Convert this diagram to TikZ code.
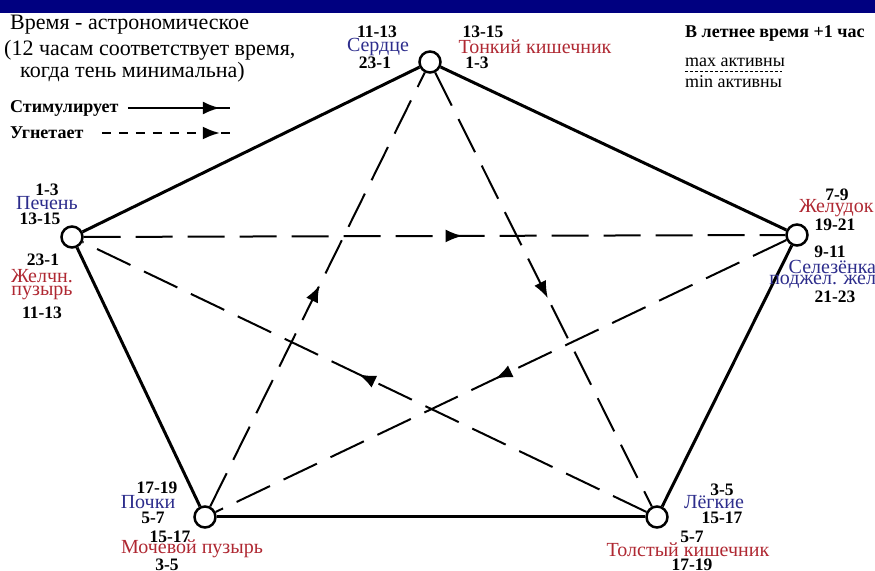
\documentclass[tikz,border=0pt]{standalone}
\usepackage{fontspec}
\setmainfont{Liberation Serif}
\usepackage{xcolor}
\usetikzlibrary{arrows.meta,decorations.markings}
\definecolor{navybar}{RGB}{0,0,128}
\definecolor{organblue}{RGB}{45,45,140}
\definecolor{organred}{RGB}{175,40,50}

\begin{document}
\begin{tikzpicture}[scale=0.8787,
  organ/.style={circle, draw, line width=2.5pt, fill=white, minimum size=21pt, inner sep=0pt},
  hours/.style={font=\fontsize{17.5}{17.5}\selectfont\bfseries, inner sep=0pt},
  yinlab/.style={text=organblue, font=\fontsize{20}{20}\selectfont, inner sep=0pt},
  yanglab/.style={text=organred, font=\fontsize{20}{20}\selectfont, inner sep=0pt},
  note/.style={font=\fontsize{22}{22}\selectfont, inner sep=0pt, anchor=west},
  keylab/.style={font=\fontsize{18}{18}\selectfont\bfseries, inner sep=0pt, anchor=west},
  bond/.style={line width=3pt},
  curb/.style={line width=2pt, dash pattern=on 37pt off 15pt},
  midarrow/.style={postaction={decorate}, decoration={markings,
    mark=at position #1 with {\arrow{Latex[length=17pt,width=13pt]}}}}
]
  \useasboundingbox (0,0) rectangle (35,22.84);
  \fill[navybar] (0,22.32) rectangle (35,22.84);

  \node[note] (astro) at (0.4,21.84) {Время - астрономическое};
  \node[note] (noon) at (0.16,20.84) {(12 часам соответствует время,};
  \node[note] (shadow) at (0.8,19.96) {когда тень минимальна)};

  \node[keylab] (stim) at (0.4,18.52) {Стимулирует};
  \coordinate (stimA) at (5.12,18.52);
  \coordinate (stimB) at (9.2,18.52);
  \draw[line width=2pt, midarrow=0.9] (stimA) -- (stimB);
  \node[keylab] (supp) at (0.4,17.52) {Угнетает};
  \coordinate (suppA) at (4.08,17.52);
  \coordinate (suppB) at (9.2,17.52);
  \draw[line width=2pt, dash pattern=on 9pt off 8pt, midarrow=0.92] (suppA) -- (suppB);

  \node[keylab] (summer) at (27.4,21.52) {В летнее время +1 час};
  \node[note, font=\fontsize{18}{18}\selectfont] (maxact) at (27.4,20.36) {max активны};
  \node[note, font=\fontsize{18}{18}\selectfont] (minact) at (27.4,19.56) {min активны};
  \coordinate (sepA) at (27.4,19.98);
  \coordinate (sepB) at (31.28,19.98);
  \draw[line width=0.8pt, dash pattern=on 3pt off 2pt] (sepA) -- (sepB);

  \node[organ] (heart) at (17.2,20.36) {};
  \node[organ] (liver) at (2.88,13.36) {};
  \node[organ] (stomach) at (31.88,13.44) {};
  \node[organ] (kidney) at (8.2,2.16) {};
  \node[organ] (lung) at (26.28,2.16) {};

  \draw[bond] (heart) -- (liver);
  \draw[bond] (heart) -- (stomach);
  \draw[bond] (liver) -- (kidney);
  \draw[bond] (stomach) -- (lung);
  \draw[bond] (kidney) -- (lung);

  \draw[curb, midarrow=0.54] (liver) -- (stomach);
  \draw[curb, midarrow=0.52] (heart) -- (lung);
  \draw[curb, midarrow=0.51] (kidney) -- (heart);
  \draw[curb, midarrow=0.51] (lung) -- (liver);
  \draw[curb, midarrow=0.51] (stomach) -- (kidney);

  \node[hours] (heartmax) at (15.08,21.56) {11-13};
  \node[yinlab] (heartlab) at (15.12,20.96) {Сердце};
  \node[hours] (heartmin) at (15.0,20.32) {23-1};
  \node[hours] (smallmax) at (19.32,21.56) {13-15};
  \node[yanglab] (smalllab) at (21.4,20.96) {Тонкий кишечник};
  \node[hours] (smallmin) at (19.08,20.32) {1-3};

  \node[hours] (livermax) at (1.88,15.24) {1-3};
  \node[yinlab] (liverlab) at (1.88,14.72) {Печень};
  \node[hours] (livermin) at (1.6,14.08) {13-15};
  \node[hours] (gallmax) at (1.72,12.44) {23-1};
  \node[yanglab] (gallA) at (1.68,11.8) {Желчн.};
  \node[yanglab] (gallB) at (1.68,11.12) {пузырь};
  \node[hours] (gallmin) at (1.68,10.32) {11-13};

  \node[hours] (stomachmax) at (33.48,15.04) {7-9};
  \node[yanglab, anchor=east] (stomachlab) at (34.95,14.52) {Желудок};
  \node[hours] (stomachmin) at (33.4,13.84) {19-21};
  \node[hours] (spleenmax) at (33.2,12.76) {9-11};
  \node[yinlab, anchor=east] (spleenA) at (35.05,12.16) {Селезёнка};
  \node[yinlab, anchor=east] (spleenB) at (35.05,11.56) {поджел. жел};
  \node[hours] (spleenmin) at (33.4,10.96) {21-23};

  \node[hours] (kidneymax) at (6.28,3.32) {17-19};
  \node[yinlab] (kidneylab) at (5.92,2.76) {Почки};
  \node[hours] (kidneymin) at (6.12,2.12) {5-7};
  \node[hours] (bladdermax) at (6.8,1.36) {15-17};
  \node[yanglab] (bladderlab) at (7.68,0.88) {Мочевой пузырь};
  \node[hours] (bladdermin) at (6.68,0.24) {3-5};

  \node[hours] (lungmax) at (28.88,3.24) {3-5};
  \node[yinlab] (lunglab) at (28.56,2.76) {Лёгкие};
  \node[hours] (lungmin) at (28.88,2.12) {15-17};
  \node[hours] (colonmax) at (27.68,1.36) {5-7};
  \node[yanglab] (colonlab) at (27.52,0.84) {Толстый кишечник};
  \node[hours] (colonmin) at (27.68,0.24) {17-19};
\end{tikzpicture}
\end{document}
